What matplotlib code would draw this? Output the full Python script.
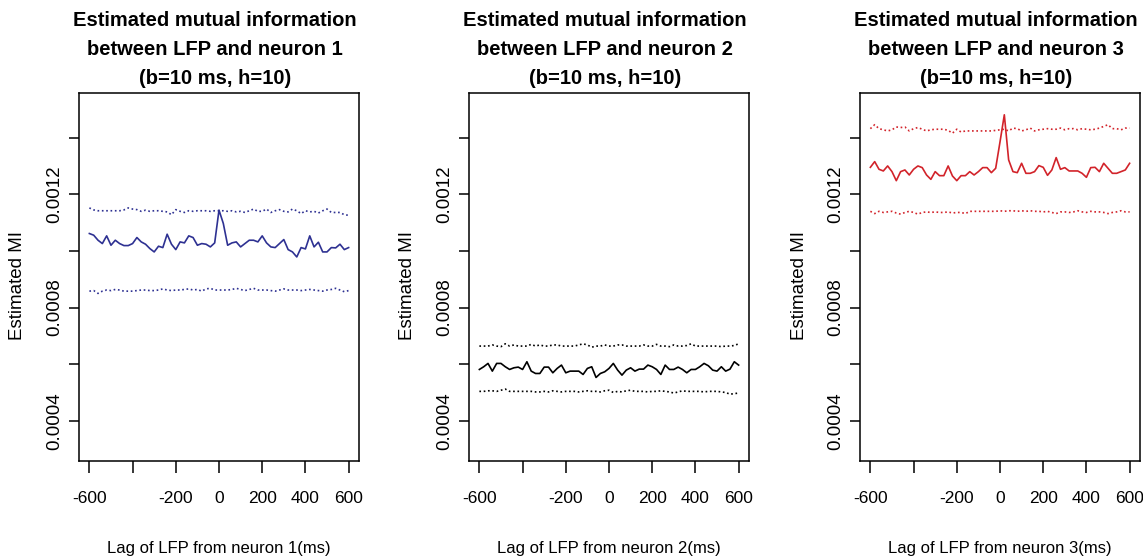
import matplotlib
matplotlib.use('Agg')
import matplotlib.pyplot as plt
import numpy as np

plt.rcParams['font.family'] = ['Liberation Sans', 'DejaVu Sans']

# lags in ms
lags = np.arange(-600, 601, 20)

# values in units of 1e-3
mid1 = [1.0616, 1.0557, 1.0379, 1.0261, 1.0533, 1.0202, 1.0379, 1.0261, 1.0190, 1.0190,
        1.0261, 1.0474, 1.0320, 1.0238, 1.0084, 0.9966, 1.0167, 1.0119, 1.0592, 1.0238,
        1.0048, 1.0320, 1.0285, 1.0533, 1.0474, 1.0202, 1.0261, 1.0238, 1.0143, 1.0285,
        1.1443, 1.0970, 1.0202, 1.0285, 1.0320, 1.0143, 1.0261, 1.0379, 1.0379, 1.0320,
        1.0533, 1.0285, 1.0143, 1.0119, 1.0261, 1.0403, 1.0048, 0.9966, 0.9788, 1.0119,
        1.0072, 1.0533, 1.0143, 1.0309, 0.9966, 0.9966, 1.0119, 1.0108, 1.0238, 1.0048,
        1.0119]
up1 = [1.152, 1.145, 1.142, 1.142, 1.142, 1.142, 1.142, 1.142, 1.145, 1.152,
       1.148, 1.146, 1.140, 1.144, 1.140, 1.142, 1.142, 1.140, 1.138, 1.128,
       1.146, 1.140, 1.136, 1.142, 1.140, 1.142, 1.142, 1.142, 1.140, 1.142,
       1.142, 1.142, 1.140, 1.142, 1.138, 1.140, 1.136, 1.142, 1.148, 1.140,
       1.140, 1.148, 1.136, 1.142, 1.146, 1.140, 1.138, 1.148, 1.142, 1.132,
       1.142, 1.138, 1.140, 1.134, 1.142, 1.148, 1.136, 1.136, 1.136, 1.128,
       1.126]
low1 = [0.858, 0.860, 0.850, 0.858, 0.862, 0.860, 0.864, 0.862, 0.858, 0.858,
        0.858, 0.860, 0.862, 0.862, 0.860, 0.860, 0.862, 0.866, 0.862, 0.860,
        0.862, 0.862, 0.864, 0.866, 0.862, 0.864, 0.858, 0.866, 0.868, 0.862,
        0.862, 0.862, 0.862, 0.864, 0.868, 0.864, 0.860, 0.864, 0.868, 0.862,
        0.862, 0.862, 0.860, 0.858, 0.862, 0.866, 0.862, 0.862, 0.862, 0.860,
        0.862, 0.864, 0.862, 0.860, 0.858, 0.862, 0.864, 0.868, 0.862, 0.856,
        0.860]

mid2 = [0.5814, 0.5909, 0.6027, 0.5755, 0.6027, 0.6027, 0.5909, 0.5814, 0.5873, 0.5897,
        0.5814, 0.6086, 0.5755, 0.5672, 0.5672, 0.5897, 0.5897, 0.5696, 0.5850, 0.5968,
        0.5696, 0.5755, 0.5755, 0.5755, 0.5637, 0.5850, 0.5909, 0.5531, 0.5672, 0.5731,
        0.5850, 0.6027, 0.5791, 0.5613, 0.5791, 0.5873, 0.5755, 0.5826, 0.5826, 0.5968,
        0.5909, 0.5814, 0.5637, 0.5968, 0.5814, 0.5814, 0.5897, 0.5814, 0.5696, 0.5814,
        0.5814, 0.5909, 0.6027, 0.5944, 0.5791, 0.5755, 0.5909, 0.5755, 0.5826, 0.6086,
        0.5968]
up2 = [0.664, 0.664, 0.664, 0.668, 0.664, 0.662, 0.672, 0.664, 0.668, 0.664,
       0.664, 0.664, 0.670, 0.664, 0.668, 0.664, 0.664, 0.668, 0.668, 0.664,
       0.664, 0.664, 0.664, 0.668, 0.672, 0.668, 0.660, 0.664, 0.664, 0.668,
       0.664, 0.664, 0.668, 0.668, 0.664, 0.664, 0.664, 0.664, 0.668, 0.664,
       0.664, 0.670, 0.664, 0.664, 0.662, 0.668, 0.664, 0.664, 0.666, 0.672,
       0.664, 0.664, 0.664, 0.664, 0.664, 0.664, 0.662, 0.664, 0.664, 0.666,
       0.672]
low2 = [0.504, 0.504, 0.506, 0.506, 0.504, 0.508, 0.512, 0.504, 0.504, 0.504,
        0.504, 0.504, 0.504, 0.502, 0.502, 0.504, 0.502, 0.506, 0.504, 0.502,
        0.504, 0.504, 0.504, 0.502, 0.504, 0.506, 0.504, 0.504, 0.502, 0.506,
        0.508, 0.500, 0.504, 0.502, 0.506, 0.508, 0.504, 0.504, 0.504, 0.502,
        0.504, 0.504, 0.506, 0.504, 0.502, 0.498, 0.502, 0.506, 0.504, 0.504,
        0.504, 0.504, 0.502, 0.504, 0.504, 0.504, 0.502, 0.500, 0.494, 0.496,
        0.498]

mid3 = [1.2955, 1.3156, 1.2885, 1.2826, 1.3003, 1.2802, 1.2483, 1.2802, 1.2861, 1.2684,
        1.2885, 1.3003, 1.2944, 1.2684, 1.2530, 1.2802, 1.2660, 1.2660, 1.3003, 1.2648,
        1.2483, 1.2660, 1.2660, 1.2802, 1.2684, 1.2802, 1.2944, 1.2944, 1.2766, 1.2920,
        1.3850, 1.4810, 1.3216, 1.2802, 1.2766, 1.3097, 1.2743, 1.2743, 1.2802, 1.3015,
        1.2955, 1.2672, 1.2861, 1.3298, 1.2885, 1.2944, 1.2826, 1.2826, 1.2826, 1.2743,
        1.2601, 1.2944, 1.2955, 1.2802, 1.3097, 1.2920, 1.2743, 1.2743, 1.2802, 1.2861,
        1.3097]
up3 = [1.432, 1.446, 1.432, 1.428, 1.424, 1.428, 1.438, 1.436, 1.438, 1.424,
       1.432, 1.436, 1.430, 1.424, 1.428, 1.430, 1.430, 1.430, 1.426, 1.416,
       1.430, 1.420, 1.424, 1.424, 1.424, 1.424, 1.424, 1.424, 1.424, 1.426,
       1.428, 1.430, 1.424, 1.434, 1.432, 1.424, 1.428, 1.434, 1.424, 1.428,
       1.430, 1.432, 1.430, 1.430, 1.434, 1.428, 1.432, 1.432, 1.428, 1.432,
       1.430, 1.428, 1.430, 1.434, 1.440, 1.446, 1.432, 1.432, 1.428, 1.434,
       1.434]
low3 = [1.140, 1.132, 1.140, 1.136, 1.138, 1.140, 1.134, 1.130, 1.136, 1.140,
        1.136, 1.130, 1.136, 1.138, 1.136, 1.138, 1.136, 1.136, 1.138, 1.134,
        1.136, 1.136, 1.132, 1.140, 1.140, 1.140, 1.140, 1.140, 1.140, 1.140,
        1.142, 1.140, 1.142, 1.142, 1.140, 1.142, 1.140, 1.142, 1.140, 1.140,
        1.138, 1.140, 1.136, 1.132, 1.138, 1.138, 1.136, 1.138, 1.142, 1.138,
        1.136, 1.140, 1.138, 1.138, 1.136, 1.132, 1.136, 1.138, 1.142, 1.138,
        1.138]

neurons = ['1', '2', '3']
colors = ['#2E3192', '#000000', '#D2232A']
x_ticks = [-600, -400, -200, 0, 200, 400, 600]
x_ticklabels = ['-600', '', '-200', '0', '200', '400', '600']
y_ticks = [0.0004, 0.0006, 0.0008, 0.0010, 0.0012, 0.0014]
y_ticklabels = ['0.0004', '', '0.0008', '', '0.0012', '']

series = [(up1, mid1, low1), (up2, mid2, low2), (up3, mid3, low3)]

W, H = 1143, 560
fig = plt.figure(figsize=(W / 100, H / 100), dpi=100)

lefts = [79, 469, 860]
width_px = 280
top_px, bot_px = 93, 461

for k in range(3):
    l = lefts[k]
    ax = fig.add_axes([l / W, 1 - bot_px / H, width_px / W, (bot_px - top_px) / H])
    up, mid, low = series[k]
    c = colors[k]
    ax.plot(lags, np.array(up) * 1e-3, color=c, lw=1.2, ls=(0, (1, 1.6)))
    ax.plot(lags, np.array(mid) * 1e-3, color=c, lw=1.2)
    ax.plot(lags, np.array(low) * 1e-3, color=c, lw=1.2, ls=(0, (1, 1.6)))
    ax.set_xlim(-648, 648)
    ax.set_ylim(0.000258, 0.001558)
    ax.set_xticks(x_ticks)
    ax.set_xticklabels(x_ticklabels, fontsize=12.5)
    ax.set_yticks(y_ticks)
    ax.set_yticklabels(y_ticklabels, fontsize=13.5, rotation=90, va='center')
    ax.tick_params(axis='x', length=8.6, width=1.1, pad=13, direction='out')
    ax.tick_params(axis='y', length=7.2, width=1.1, pad=4, direction='out')
    for s in ax.spines.values():
        s.set_linewidth(1.1)
    cx = (l + width_px / 2 - 4) / W
    title_lines = ['Estimated mutual information',
                   'between LFP and neuron %s' % neurons[k],
                   '(b=10 ms, h=10)']
    for j, line in enumerate(title_lines):
        fig.text(cx, 1 - (21 + 28.5 * j) / H, line, ha='center', va='center',
                 fontsize=14.5, fontweight='bold')
    fig.text((l + width_px / 2) / W, 1 - 549 / H, 'Lag of LFP from neuron %s(ms)' % neurons[k],
             ha='center', va='center', fontsize=12)
    fig.text((l - 61) / W, 1 - 285 / H, 'Estimated MI', rotation=90,
             ha='center', va='center', fontsize=13.5)

fig.savefig('out.png', dpi=100)
